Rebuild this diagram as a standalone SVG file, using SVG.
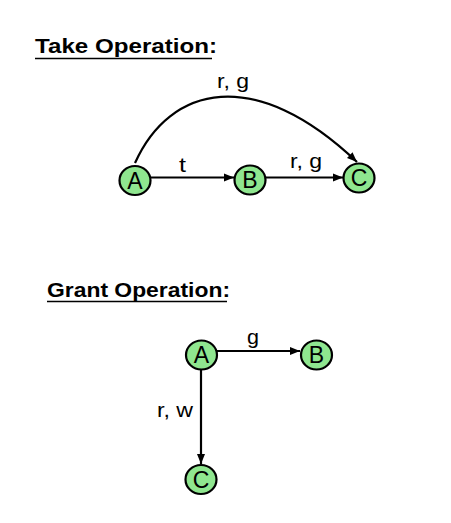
<svg xmlns="http://www.w3.org/2000/svg" width="451" height="523" viewBox="0 0 451 523">
<style>
.title{font-family:"Liberation Sans",Arial,sans-serif;font-weight:bold;font-size:20px;fill:#000}
.lbl{font-family:"Liberation Sans",Arial,sans-serif;font-size:21px;fill:#000}
.nodelbl{font-family:"Liberation Sans",Arial,sans-serif;font-size:23px;fill:#000;text-anchor:middle}
.node{fill:#8fe68f;stroke:#000;stroke-width:2.2}
.edge{fill:none;stroke:#000;stroke-width:2.2}
.ul{stroke:#000;stroke-width:1.5}
</style>
<defs>
<marker id="arr" markerUnits="userSpaceOnUse" markerWidth="11" markerHeight="9" refX="10" refY="4.5" orient="auto">
<path d="M0,0.5 L10,4.5 L0,8.5 Z" fill="#000"/>
</marker>
</defs>
<rect width="451" height="523" fill="#fff"/>
<g id="title-take">
<text class="title" x="35" y="53" textLength="182" lengthAdjust="spacingAndGlyphs">Take Operation:</text>
<line class="ul" x1="35" y1="58.5" x2="212" y2="58.5"/>
</g>
<g id="title-grant">
<text class="title" x="47" y="297" textLength="183" lengthAdjust="spacingAndGlyphs">Grant Operation:</text>
<line class="ul" x1="47" y1="301.5" x2="227" y2="301.5"/>
</g>
<g id="connectors">
<path class="edge" d="M135,163 C170,85 255,65 357,162" marker-end="url(#arr)"/>
<line class="edge" x1="151" y1="177.5" x2="234" y2="177.5" marker-end="url(#arr)"/>
<line class="edge" x1="266" y1="177.5" x2="343" y2="177.5" marker-end="url(#arr)"/>
<line class="edge" x1="217" y1="351" x2="300" y2="351" marker-end="url(#arr)"/>
<line class="edge" x1="201" y1="370" x2="201" y2="464" marker-end="url(#arr)"/>
<text class="lbl" x="217" y="88" textLength="32" lengthAdjust="spacingAndGlyphs">r, g</text>
<text class="lbl" x="179" y="172" textLength="7" lengthAdjust="spacingAndGlyphs">t</text>
<text class="lbl" x="290" y="168" textLength="32" lengthAdjust="spacingAndGlyphs">r, g</text>
<text class="lbl" x="247" y="344" textLength="12" lengthAdjust="spacingAndGlyphs">g</text>
<text class="lbl" x="157" y="417" textLength="36" lengthAdjust="spacingAndGlyphs">r, w</text>
</g>
<g id="take-A">
<ellipse class="node" cx="135" cy="180.5" rx="15.5" ry="14.5"/>
<text class="nodelbl" x="135" y="188.5">A</text>
</g>
<g id="take-B">
<ellipse class="node" cx="250" cy="180" rx="15.5" ry="14.5"/>
<text class="nodelbl" x="250" y="188">B</text>
</g>
<g id="take-C">
<ellipse class="node" cx="359" cy="178" rx="15.5" ry="14.5"/>
<text class="nodelbl" x="359" y="186">C</text>
</g>
<g id="grant-A">
<ellipse class="node" cx="201.5" cy="355" rx="15.5" ry="14.5"/>
<text class="nodelbl" x="201.5" y="363">A</text>
</g>
<g id="grant-B">
<ellipse class="node" cx="316.5" cy="355" rx="15.5" ry="14.5"/>
<text class="nodelbl" x="316.5" y="363">B</text>
</g>
<g id="grant-C">
<ellipse class="node" cx="201" cy="479.5" rx="15.5" ry="14.5"/>
<text class="nodelbl" x="201" y="487.5">C</text>
</g>
</svg>
